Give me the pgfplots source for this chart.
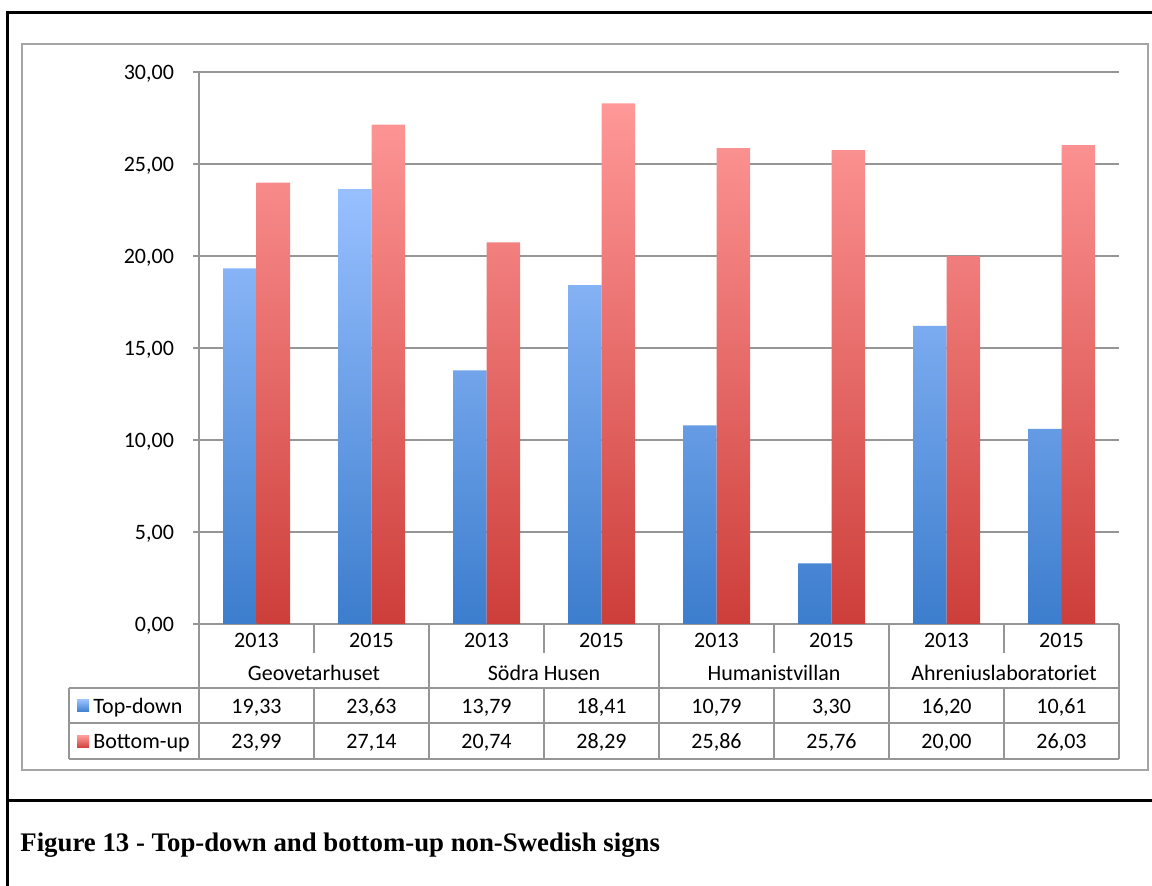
\documentclass[border=0pt]{standalone}
\usepackage{fontspec}
\setmainfont{Carlito}
\newfontfamily\capfont{Liberation Serif}
\usepackage{pgfplots}
\pgfplotsset{compat=1.18}
\definecolor{tdtop}{RGB}{152,192,255}
\definecolor{tdbot}{RGB}{60,125,205}
\definecolor{butop}{RGB}{255,152,152}
\definecolor{bubot}{RGB}{205,62,58}
\definecolor{lgray}{RGB}{150,150,150}
\definecolor{fgray}{RGB}{165,165,165}
\begin{document}
\begin{tikzpicture}[x=0.5pt,y=-0.5pt]
\useasboundingbox (0,0) rectangle (1152,886);
% outer black frame
\draw[black, line width=1.5pt] (7,886) -- (7,13) -- (1152,13);
\draw[black, line width=1.5pt] (7,801) -- (1152,801);
% chart area frame
\draw[fgray, line width=1pt] (22,44) rectangle (1148,770);
\begin{axis}[
  at={(99.5pt,-312pt)}, anchor=south west,
  scale only axis, width=460pt, height=276pt,
  xmin=-0.5, xmax=7.5, ymin=0, ymax=30,
  ytick={0,5,...,30}, xtick=\empty,
  ybar=0pt, bar width=16.75pt,
  axis x line*=bottom, axis y line*=left,
  axis line style={draw=lgray, line width=1pt},
  ymajorgrids, grid style={draw=lgray, line width=1pt},
  tick align=outside, major tick length=3pt,
  ytick style={draw=lgray, line width=1pt},
  /pgf/number format/fixed, /pgf/number format/fixed zerofill,
  /pgf/number format/precision=2, /pgf/number format/use comma,
  /pgf/number format/assume math mode=true,
  yticklabel style={font=\fontsize{11}{12}\selectfont, text=black, anchor=east, xshift=-6pt, yshift=-1pt},
]
\addplot[draw=none, top color=tdtop, bottom color=tdbot] coordinates {
  (0,19.33) (1,23.63) (2,13.79) (3,18.41) (4,10.79) (5,3.30) (6,16.20) (7,10.61)};
\addplot[draw=none, top color=butop, bottom color=bubot] coordinates {
  (0,23.99) (1,27.14) (2,20.74) (3,28.29) (4,25.86) (5,25.76) (6,20.00) (7,26.03)};
\end{axis}
% data table
\begin{scope}[lgray, line width=1pt]
\foreach \x in {199,429,659,889,1119} \draw (\x,624) -- (\x,759);
\foreach \x in {314,544,774,1004} {\draw (\x,624) -- (\x,653); \draw (\x,688) -- (\x,759);}
\foreach \y in {688,723,759} \draw (69,\y) -- (1119,\y);
\draw (69,688) -- (69,759);
\end{scope}
\begin{scope}[every node/.style={font=\fontsize{11}{12}\selectfont, inner sep=0pt, anchor=base}]
\foreach \k in {0,2,4,6} \node at (256.5+115*\k,648) {2013};
\foreach \k in {1,3,5,7} \node at (256.5+115*\k,648) {2015};
\node at (314,681) {Geovetarhuset};
\node at (544,681) {Södra Husen};
\node at (774,681) {Humanistvillan};
\node at (1004,681) {Ahreniuslaboratoriet};
\foreach \v [count=\i from 0] in {19{,}33,23{,}63,13{,}79,18{,}41,10{,}79,3{,}30,16{,}20,10{,}61}
  \node at (256.5+115*\i,714) {\v};
\foreach \v [count=\i from 0] in {23{,}99,27{,}14,20{,}74,28{,}29,25{,}86,25{,}76,20{,}00,26{,}03}
  \node at (256.5+115*\i,749) {\v};
\node[anchor=base west] at (93,714) {Top-down};
\node[anchor=base west] at (93,749) {Bottom-up};
\end{scope}
\shade[top color=tdtop, bottom color=tdbot] (77,700) rectangle (89,712);
\shade[top color=butop, bottom color=bubot] (77,736) rectangle (89,748);
% caption
\node[anchor=base west, inner sep=0pt, font={\capfont\bfseries\fontsize{13.4}{15}\selectfont}] at (20,852) {Figure 13 - Top-down and bottom-up non-Swedish signs};
\end{tikzpicture}
\end{document}
